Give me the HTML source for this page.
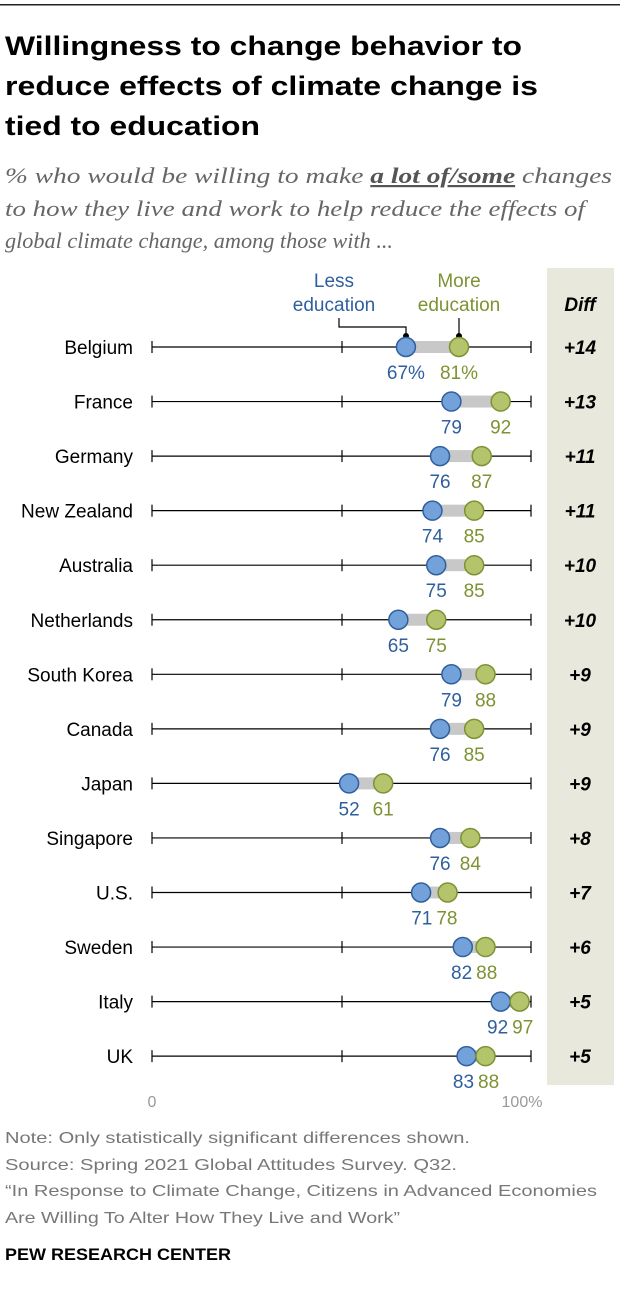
<!DOCTYPE html>
<html><head><meta charset="utf-8"><style>
html,body{margin:0;padding:0;background:#fff}
svg{display:block}
text{font-family:"Liberation Sans",sans-serif}
text.serif{font-family:"Liberation Serif",serif}
</style></head><body>
<svg width="620" height="1302" viewBox="0 0 620 1302" xmlns="http://www.w3.org/2000/svg">
<rect x="0" y="4" width="620" height="1.5" fill="#222"/>
<g font-weight="bold" font-size="27" fill="#000">
<text x="5" y="55" textLength="517" lengthAdjust="spacingAndGlyphs">Willingness to change behavior to</text>
<text x="5" y="95" textLength="533" lengthAdjust="spacingAndGlyphs">reduce effects of climate change is</text>
<text x="5" y="135" textLength="255" lengthAdjust="spacingAndGlyphs">tied to education</text>
</g>
<g font-style="italic" font-size="22" fill="#666">
<text class="serif" x="5" y="183" textLength="607" lengthAdjust="spacingAndGlyphs">% who would be willing to make <tspan font-weight="bold" text-decoration="underline" fill="#555">a lot of/some</tspan> changes</text>
<text class="serif" x="5" y="216" textLength="580" lengthAdjust="spacingAndGlyphs">to how they live and work to help reduce the effects of</text>
<text class="serif" x="5" y="248" textLength="388" lengthAdjust="spacingAndGlyphs">global climate change, among those with ...</text>
</g>
<rect x="547" y="268" width="67" height="817" fill="#e9e8dc"/>
<text x="580" y="311" text-anchor="middle" font-weight="bold" font-style="italic" font-size="19">Diff</text>
<text x="334" y="287" text-anchor="middle" font-size="19" fill="#2f5f9e">Less</text>
<text x="334" y="311" text-anchor="middle" font-size="19" fill="#2f5f9e">education</text>
<text x="459" y="287" text-anchor="middle" font-size="19" fill="#7d9232">More</text>
<text x="459" y="311" text-anchor="middle" font-size="19" fill="#7d9232">education</text>
<path d="M339 318 V327 H406 V336" fill="none" stroke="#000" stroke-width="1.2"/>
<circle cx="406" cy="336" r="3" fill="#000"/>
<path d="M459 318 V336" fill="none" stroke="#000" stroke-width="1.2"/>
<circle cx="459" cy="336" r="3" fill="#000"/>
<g id="rows"></g>
<text x="152" y="1107" text-anchor="middle" font-size="16" fill="#999">0</text>
<text x="522" y="1107" text-anchor="middle" font-size="16" fill="#999">100%</text>
<g font-size="16" fill="#777">
<text x="5" y="1143" textLength="465" lengthAdjust="spacingAndGlyphs">Note: Only statistically significant differences shown.</text>
<text x="5" y="1170" textLength="452" lengthAdjust="spacingAndGlyphs">Source: Spring 2021 Global Attitudes Survey. Q32.</text>
<text x="5" y="1196" textLength="592" lengthAdjust="spacingAndGlyphs">“In Response to Climate Change, Citizens in Advanced Economies</text>
<text x="5" y="1223" textLength="395" lengthAdjust="spacingAndGlyphs">Are Willing To Alter How They Live and Work”</text>
</g>
<text x="5" y="1260" font-weight="bold" font-size="17" fill="#000" textLength="226" lengthAdjust="spacingAndGlyphs">PEW RESEARCH CENTER</text>
</svg>
<script>
var d=[["Belgium",67,81,"+14"],["France",79,92,"+13"],["Germany",76,87,"+11"],["New Zealand",74,85,"+11"],["Australia",75,85,"+10"],["Netherlands",65,75,"+10"],["South Korea",79,88,"+9"],["Canada",76,85,"+9"],["Japan",52,61,"+9"],["Singapore",76,84,"+8"],["U.S.",71,78,"+7"],["Sweden",82,88,"+6"],["Italy",92,97,"+5"],["UK",83,88,"+5"]];
var s="";
d.forEach(function(r,i){
var y=347+i*54.55, a=152+r[1]*3.79, b=152+r[2]*3.79;
s+='<text x="133" y="'+(y+7)+'" text-anchor="end" font-size="19" fill="#000">'+r[0]+'</text>';
s+='<line x1="152" y1="'+y+'" x2="531" y2="'+y+'" stroke="#000" stroke-width="1.2"/>';
[152,342,531].forEach(function(x){s+='<line x1="'+x+'" y1="'+(y-6)+'" x2="'+x+'" y2="'+(y+6)+'" stroke="#000" stroke-width="1.2"/>';});
s+='<rect x="'+a+'" y="'+(y-6)+'" width="'+(b-a)+'" height="12" fill="#c8c8c8"/>';
s+='<circle cx="'+a+'" cy="'+y+'" r="9.5" fill="#73a2da" stroke="#2f5f9e" stroke-width="1.5"/>';
s+='<circle cx="'+b+'" cy="'+y+'" r="9.5" fill="#b3c46c" stroke="#7d9232" stroke-width="1.5"/>';
var p=i==0?"%":"";
var la,lb,aa="middle",ab="middle";
if(b-a<30){var m=(a+b)/2;la=m-2;lb=m+2;aa="end";ab="start";}else{la=a;lb=b;}
s+='<text x="'+la+'" y="'+(y+32)+'" text-anchor="'+aa+'" font-size="19" fill="#2f5f9e">'+r[1]+p+'</text>';
s+='<text x="'+lb+'" y="'+(y+32)+'" text-anchor="'+ab+'" font-size="19" fill="#7d9232">'+r[2]+p+'</text>';
s+='<text x="580" y="'+(y+7)+'" text-anchor="middle" font-weight="bold" font-style="italic" font-size="19" fill="#000">'+r[3]+'</text>';
});
document.getElementById("rows").innerHTML=s;
</script>
</body></html>
